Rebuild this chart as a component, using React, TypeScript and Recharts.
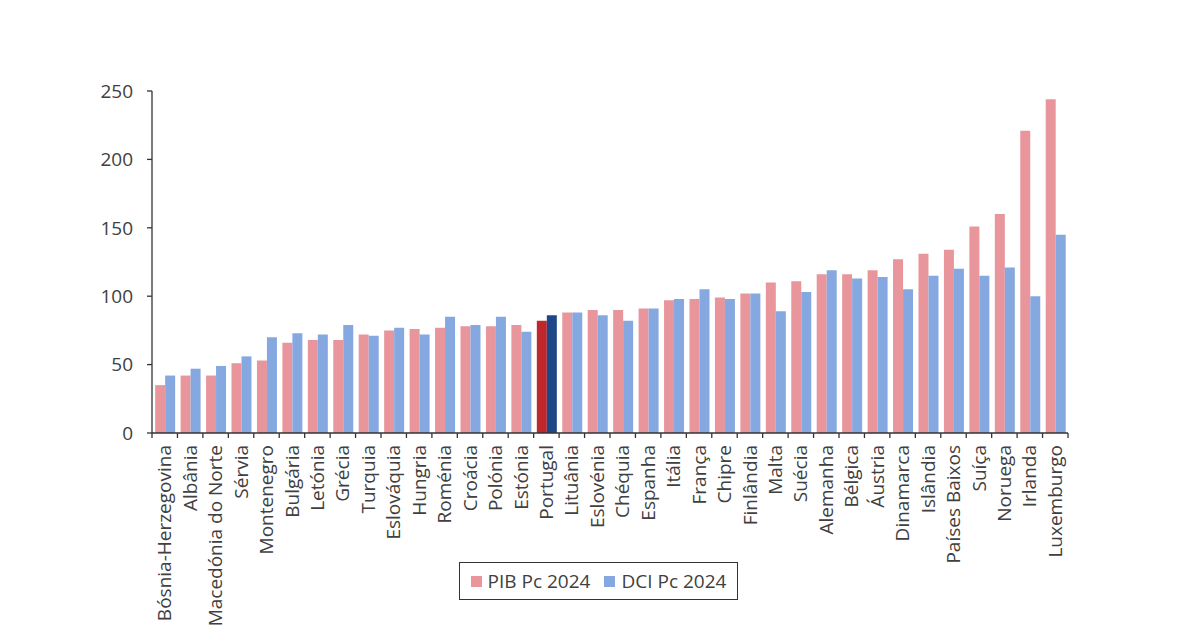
import React from "react";
import { BarChart, Bar, XAxis, YAxis, Cell } from "recharts";

// Values
const countries = [
  "Bósnia-Herzegovina", "Albânia", "Macedónia do Norte", "Sérvia", "Montenegro", "Bulgária",
  "Letónia", "Grécia", "Turquia", "Eslováquia", "Hungria", "Roménia", "Croácia", "Polónia",
  "Estónia", "Portugal", "Lituânia", "Eslovénia", "Chéquia", "Espanha", "Itália", "França",
  "Chipre", "Finlândia", "Malta", "Suécia", "Alemanha", "Bélgica", "Áustria", "Dinamarca",
  "Islândia", "Países Baixos", "Suíça", "Noruega", "Irlanda", "Luxemburgo",
];
const pib = [
  35, 42, 42, 51, 53, 66, 68, 68, 72, 75, 76, 77, 78, 78, 79, 82, 88, 90,
  90, 91, 97, 98, 99, 102, 110, 111, 116, 116, 119, 127, 131, 134, 151, 160, 221, 244,
];
const dci = [
  42, 47, 49, 56, 70, 73, 72, 79, 71, 77, 72, 85, 79, 85, 74, 86, 88, 86,
  82, 91, 98, 105, 98, 102, 89, 103, 119, 113, 114, 105, 115, 120, 115, 121, 100, 145,
];
const yTicks = [0, 50, 100, 150, 200, 250];
const highlight = "Portugal";

const data = countries.map((name, i) => ({ name, pib: pib[i], dci: dci[i] }));

const PIB_COLOR = "#E8969C";
const DCI_COLOR = "#86A8E0";
const PIB_HL = "#C0272D";
const DCI_HL = "#1F4788";
const AXIS = "#333333";
const TEXT = "#404040";
const FONT = "'Open Sans', sans-serif";
const FS = 19;

const BAND = 916 / countries.length;

const CountryTick = (props: any) => {
  const { x, y, payload, index } = props;
  const half = payload && payload.offset ? payload.offset : BAND / 2;
  const last = index === countries.length - 1;
  return (
    <g>
      <line x1={x - half} y1={y} x2={x - half} y2={y + 5} stroke={AXIS} strokeWidth={1.3} />
      {last && <line x1={x + half} y1={y} x2={x + half} y2={y + 5} stroke={AXIS} strokeWidth={1.3} />}
      <text
        x={x}
        y={y + 12}
        transform={`rotate(-90, ${x}, ${y + 12})`}
        textAnchor="end"
        dy="0.35em"
        fill={TEXT}
        fontSize={FS}
        fontFamily={FONT}
      >
        {payload.value}
      </text>
    </g>
  );
};

const legendItems = [
  { label: "PIB Pc 2024", color: PIB_COLOR },
  { label: "DCI Pc 2024", color: DCI_COLOR },
];

export default function App() {
  return (
    <div style={{ position: "absolute", left: 0, top: 0, width: 1200, height: 630, background: "#fff" }}>
      <BarChart
        width={1200}
        height={630}
        data={data}
        margin={{ top: 91, right: 132, left: 92, bottom: 7 }}
        barCategoryGap="12.4%"
        barGap={0}
      >
        <XAxis
          dataKey="name"
          interval={0}
          height={190}
          tickSize={0}
          tickMargin={0}
          tick={<CountryTick />}
          axisLine={{ stroke: AXIS, strokeWidth: 1.3 }}
        />
        <YAxis
          width={60}
          domain={[0, 250]}
          ticks={yTicks}
          tickSize={5}
          tickMargin={14}
          tickLine={{ stroke: AXIS, strokeWidth: 1.3 }}
          axisLine={{ stroke: AXIS, strokeWidth: 1.3 }}
          tick={{ fill: TEXT, fontSize: FS, fontFamily: FONT }}
        />
        <Bar dataKey="pib" name="PIB Pc 2024" fill={PIB_COLOR} isAnimationActive={false}>
          {data.map((d) => (
            <Cell key={d.name} fill={d.name === highlight ? PIB_HL : PIB_COLOR} />
          ))}
        </Bar>
        <Bar dataKey="dci" name="DCI Pc 2024" fill={DCI_COLOR} isAnimationActive={false}>
          {data.map((d) => (
            <Cell key={d.name} fill={d.name === highlight ? DCI_HL : DCI_COLOR} />
          ))}
        </Bar>
      </BarChart>
      <div
        style={{
          position: "absolute",
          left: 459,
          top: 562,
          width: 279,
          height: 38,
          border: "1.5px solid #333",
          boxSizing: "border-box",
          display: "flex",
          alignItems: "center",
          justifyContent: "center",
          gap: 14,
          fontFamily: FONT,
          fontSize: FS,
          color: TEXT,
        }}
      >
        {legendItems.map((it) => (
          <span key={it.label} style={{ display: "flex", alignItems: "center" }}>
            <span style={{ width: 11, height: 11, background: it.color, marginRight: 6, display: "inline-block" }} />
            {it.label}
          </span>
        ))}
      </div>
    </div>
  );
}
